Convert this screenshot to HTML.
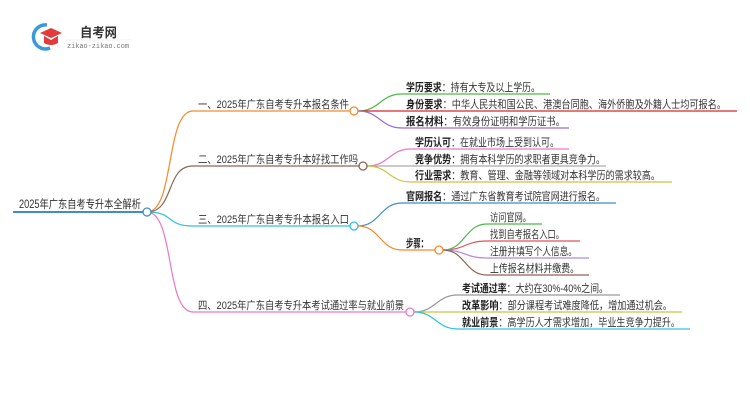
<!DOCTYPE html>
<html><head><meta charset="utf-8"><style>
html,body{margin:0;padding:0;background:#fff;}
svg{display:block;font-family:"Liberation Sans","Noto Sans CJK SC",sans-serif;}
.t{font-size:11px;fill:#333;}
.b{font-weight:bold;fill:#222;}
</style></head><body>
<svg width="750" height="410" viewBox="0 0 750 410" xmlns="http://www.w3.org/2000/svg">
<!-- logo -->
<path d="M47 25 A12 12 0 1 0 50 48" fill="none" stroke="#3a9ad9" stroke-width="3.5"/>
<path d="M40 33 L51 28 L62 33 L51 38 Z" fill="#e23b3b"/>
<path d="M44 36 L44 43 Q51 47 58 43 L58 36 L51 40 Z" fill="#e23b3b"/>
<text x="80" y="37" font-size="13" font-weight="bold" fill="#333" textLength="37" lengthAdjust="spacingAndGlyphs">自考网</text>
<line x1="66" y1="40" x2="131" y2="40" stroke="#e4e4e4" stroke-width="0.6"/>
<text x="67" y="48" font-size="7" fill="#777" font-family="Liberation Mono,monospace" textLength="62" lengthAdjust="spacingAndGlyphs">zikao-zikao.com</text>

<!-- root -->
<text x="19" y="208" font-size="11.5" fill="#333" textLength="122" lengthAdjust="spacingAndGlyphs">2025年广东自考专升本全解析</text>
<line x1="13" y1="212" x2="143" y2="212" stroke="#3d8ec9" stroke-width="2"/>

<!-- root branches -->
<path d="M147 212 C175 212,165 111,193 111 L350 111" fill="none" stroke="#f5892a" stroke-width="1.2"/>
<path d="M147 212 C175 212,165 166,193 166 L359 166" fill="none" stroke="#8d6354" stroke-width="1.2"/>
<path d="M147 212 C175 212,165 226,193 226 L350 226" fill="none" stroke="#2ec3dc" stroke-width="1.2"/>
<path d="M147 212 C175 212,165 312,193 312 L406 312" fill="none" stroke="#ec77c6" stroke-width="1.2"/>
<circle cx="147" cy="212" r="4" fill="#fff" stroke="#3d8ec9" stroke-width="1.3"/>

<text x="198" y="108" class="t" textLength="151" lengthAdjust="spacingAndGlyphs">一、2025年广东自考专升本报名条件</text>
<text x="198" y="163" class="t" textLength="160" lengthAdjust="spacingAndGlyphs">二、2025年广东自考专升本好找工作吗</text>
<text x="198" y="223" class="t" textLength="151" lengthAdjust="spacingAndGlyphs">三、2025年广东自考专升本报名入口</text>
<text x="198" y="309" class="t" textLength="206" lengthAdjust="spacingAndGlyphs">四、2025年广东自考专升本考试通过率与就业前景</text>

<!-- branch 1 -->
<path d="M358 111 C380 111,380 94,402 94 L550 94" fill="none" stroke="#4db84a" stroke-width="1.2"/>
<path d="M358 111 L737 111" fill="none" stroke="#d9262e" stroke-width="1.2"/>
<path d="M358 111 C380 111,380 128,402 128 L569 128" fill="none" stroke="#9a6cd0" stroke-width="1.2"/>
<circle cx="354" cy="111" r="4" fill="#fff" stroke="#f5892a" stroke-width="1.3"/>
<text x="406" y="91" class="t" textLength="134" lengthAdjust="spacingAndGlyphs"><tspan class="b">学历要求</tspan>：持有大专及以上学历。</text>
<text x="406" y="108" class="t" textLength="320" lengthAdjust="spacingAndGlyphs"><tspan class="b">身份要求</tspan>：中华人民共和国公民、港澳台同胞、海外侨胞及外籍人士均可报名。</text>
<text x="406" y="125" class="t" textLength="159" lengthAdjust="spacingAndGlyphs"><tspan class="b">报名材料</tspan>：有效身份证明和学历证书。</text>

<!-- branch 2 -->
<path d="M367 166 C389 166,389 149,411 149 L569 149" fill="none" stroke="#ec77c6" stroke-width="1.2"/>
<path d="M367 166 L606 166" fill="none" stroke="#aaa" stroke-width="1.2"/>
<path d="M367 166 C389 166,389 182,411 182 L672 182" fill="none" stroke="#c9c43c" stroke-width="1.2"/>
<circle cx="363" cy="166" r="4" fill="#fff" stroke="#8d6354" stroke-width="1.3"/>
<text x="415" y="146" class="t" textLength="144" lengthAdjust="spacingAndGlyphs"><tspan class="b">学历认可</tspan>：在就业市场上受到认可。</text>
<text x="415" y="163" class="t" textLength="190" lengthAdjust="spacingAndGlyphs"><tspan class="b">竞争优势</tspan>：拥有本科学历的求职者更具竞争力。</text>
<text x="415" y="179" class="t" textLength="245" lengthAdjust="spacingAndGlyphs"><tspan class="b">行业需求</tspan>：教育、管理、金融等领域对本科学历的需求较高。</text>

<!-- branch 3 -->
<path d="M358 226 C380 226,380 203,402 203 L616 203" fill="none" stroke="#3d8ec9" stroke-width="1.2"/>
<path d="M358 226 C380 226,380 250,402 250 L435 250" fill="none" stroke="#f5892a" stroke-width="1.2"/>
<circle cx="354" cy="226" r="4" fill="#fff" stroke="#2ec3dc" stroke-width="1.3"/>
<text x="406" y="200" class="t" textLength="199" lengthAdjust="spacingAndGlyphs"><tspan class="b">官网报名</tspan>：通过广东省教育考试院官网进行报名。</text>
<text x="406" y="247" class="t b" textLength="22" lengthAdjust="spacingAndGlyphs">步骤：</text>
<path d="M443 250 C465 250,465 224,487 224 L542 224" fill="none" stroke="#4db84a" stroke-width="1.2"/>
<path d="M443 250 C465 250,465 241,487 241 L580 241" fill="none" stroke="#e0505a" stroke-width="1.2"/>
<path d="M443 250 C465 250,465 258,487 258 L589 258" fill="none" stroke="#b58ad8" stroke-width="1.2"/>
<path d="M443 250 C465 250,465 275,487 275 L589 275" fill="none" stroke="#8d6354" stroke-width="1.2"/>
<circle cx="439" cy="250" r="4" fill="#fff" stroke="#f5892a" stroke-width="1.3"/>
<text x="490" y="221" class="t" textLength="41" lengthAdjust="spacingAndGlyphs">访问官网。</text>
<text x="490" y="238" class="t" textLength="74" lengthAdjust="spacingAndGlyphs">找到自考报名入口。</text>
<text x="490" y="255" class="t" textLength="87" lengthAdjust="spacingAndGlyphs">注册并填写个人信息。</text>
<text x="490" y="272" class="t" textLength="89" lengthAdjust="spacingAndGlyphs">上传报名材料并缴费。</text>

<!-- branch 4 -->
<path d="M414 312 C436 312,436 295,458 295 L620 295" fill="none" stroke="#999" stroke-width="1.2"/>
<path d="M414 312 L682 312" fill="none" stroke="#c9c43c" stroke-width="1.2"/>
<path d="M414 312 C436 312,436 329,458 329 L690 329" fill="none" stroke="#2ec3dc" stroke-width="1.2"/>
<circle cx="410" cy="312" r="4" fill="#fff" stroke="#ec77c6" stroke-width="1.3"/>
<text x="462" y="292" class="t" textLength="146" lengthAdjust="spacingAndGlyphs"><tspan class="b">考试通过率</tspan>：大约在30%-40%之间。</text>
<text x="462" y="309" class="t" textLength="210" lengthAdjust="spacingAndGlyphs"><tspan class="b">改革影响</tspan>：部分课程考试难度降低，增加通过机会。</text>
<text x="462" y="326" class="t" textLength="218" lengthAdjust="spacingAndGlyphs"><tspan class="b">就业前景</tspan>：高学历人才需求增加，毕业生竞争力提升。</text>
</svg>
</body></html>
